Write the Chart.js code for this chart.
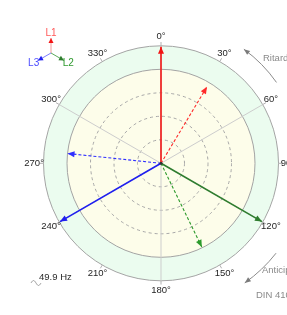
<!DOCTYPE html>
<html>
<head>
<meta charset="utf-8">
<script src="https://cdn.jsdelivr.net/npm/chart.js@4.4.1/dist/chart.umd.min.js"></script>
<style>
  html, body { margin: 0; padding: 0; background: #fff; overflow: hidden; }
  canvas { display: block; }
</style>
</head>
<body>
<canvas id="fasori" width="287" height="315"></canvas>
<script>
// Dati del diagramma fasoriale (angoli in gradi, senso orario da 0° in alto)
const fasi = ['L1', 'L2', 'L3'];
const angoliTensione = [0, 120, 240];
const moduliTensione = [124, 124, 124];
const angoliCorrente = [31, 154, 276];
const moduliCorrente = [95, 99, 100];
const etichetteAngoli = ['0°', '30°', '60°', '90°', '120°', '150°', '180°', '210°', '240°', '270°', '300°', '330°'];
const gradiEtichette = [0, 30, 60, 90, 120, 150, 180, 210, 240, 270, 300, 330];
const frequenza = '49.9 Hz';

// Colori
const COL_TENSIONE = ['#f21414', '#2f7d2f', '#1f1fef'];
const COL_CORRENTE = ['#ff2a2a', '#2c9a2c', '#2f2fff'];
const COL_LEGENDA_LINEA = ['#f49a9a', '#5aa85a', '#7a7aff'];
const COL_LEGENDA_TESTO = ['#ff5a5a', '#2f9a2f', '#4b4bff'];

const R_ESTERNO = 125;   // anello verde
const R_INTERNO = 100;   // disco giallo
const R_ETICHETTE = 135;
const FONT = '9.5px "Liberation Sans", Arial, sans-serif';

const rad = g => g * Math.PI / 180;
const punto = (mod, ang) => ({ x: mod * Math.sin(rad(ang)), y: mod * Math.cos(rad(ang)) });

function vettore(i, tensione){
  const mod = tensione ? moduliTensione[i] : moduliCorrente[i];
  const ang = tensione ? angoliTensione[i] : angoliCorrente[i];
  return {
    label: fasi[i] + (tensione ? ' U' : ' I'),
    data: [{ x: 0, y: 0 }, punto(mod, ang)],
    showLine: true,
    borderColor: tensione ? COL_TENSIONE[i] : COL_CORRENTE[i],
    borderWidth: tensione ? 1.6 : 1.1,
    borderDash: tensione ? [] : [3, 2],
    pointRadius: 0,
    fill: false
  };
}

const datasets = [];
for (let i = 0; i < fasi.length; i++) datasets.push(vettore(i, false));
for (let i = 0; i < fasi.length; i++) datasets.push(vettore(i, true));

function freccia(ctx, x0, y0, x1, y1, colore, lung = 7, larg = 3){
  const a = Math.atan2(y1 - y0, x1 - x0);
  ctx.save();
  ctx.fillStyle = colore;
  ctx.beginPath();
  ctx.moveTo(x1, y1);
  ctx.lineTo(x1 - lung * Math.cos(a) + larg * Math.sin(a), y1 - lung * Math.sin(a) - larg * Math.cos(a));
  ctx.lineTo(x1 - lung * Math.cos(a) - larg * Math.sin(a), y1 - lung * Math.sin(a) + larg * Math.cos(a));
  ctx.closePath();
  ctx.fill();
  ctx.restore();
}

// Sfondo: anelli, griglia, etichette, testi
const sfondoPlugin = {
  id: 'sfondoFasori',
  beforeDatasetsDraw(chart){
    const { ctx } = chart;
    const sx = chart.scales.x, sy = chart.scales.y;
    const cx = sx.getPixelForValue(0), cy = sy.getPixelForValue(0);
    const k = sx.getPixelForValue(1) - cx;
    const px = (mod, ang) => [cx + mod * k * Math.sin(rad(ang)), cy - mod * k * Math.cos(rad(ang))];

    ctx.save();
    // anello esterno
    ctx.fillStyle = '#ebfcef';
    ctx.strokeStyle = '#a4a4a4';
    ctx.lineWidth = 1;
    ctx.beginPath(); ctx.arc(cx, cy, R_ESTERNO * k, 0, Math.PI * 2); ctx.fill(); ctx.stroke();
    // disco interno
    ctx.fillStyle = '#fdfdea';
    ctx.beginPath(); ctx.arc(cx, cy, R_INTERNO * k, 0, Math.PI * 2); ctx.fill(); ctx.stroke();

    // cerchi tratteggiati
    ctx.strokeStyle = '#a8a8a8';
    ctx.setLineDash([3, 3]);
    [25, 50, 75].forEach(r => {
      ctx.beginPath(); ctx.arc(cx, cy, r * k, 0, Math.PI * 2); ctx.stroke();
    });
    ctx.setLineDash([]);

    // raggi ogni 60°
    ctx.strokeStyle = '#cdcdcd';
    for (let g = 0; g < 360; g += 60){
      const [x, y] = px(R_ESTERNO, g);
      ctx.beginPath(); ctx.moveTo(cx, cy); ctx.lineTo(x, y); ctx.stroke();
    }
    // tacche ogni 30°
    ctx.strokeStyle = '#b0b0b0';
    gradiEtichette.forEach(g => {
      const [x0, y0] = px(R_ESTERNO, g);
      const [x1, y1] = px(R_ESTERNO + 4, g);
      ctx.beginPath(); ctx.moveTo(x0, y0); ctx.lineTo(x1, y1); ctx.stroke();
    });

    // etichette angoli
    ctx.font = FONT;
    ctx.fillStyle = '#1e1e1e';
    ctx.textAlign = 'center';
    ctx.textBaseline = 'middle';
    gradiEtichette.forEach((g, i) => {
      const [x, y] = px(R_ETICHETTE, g);
      ctx.fillText(etichetteAngoli[i], x, y);
    });

    // frecce Ritardo / Anticipo
    ctx.strokeStyle = '#8c8c8c';
    ctx.lineWidth = 1;
    const arco = (r, a0, a1) => {
      ctx.beginPath();
      ctx.arc(cx, cy, r, rad(a0 - 90), rad(a1 - 90), a1 < a0);
      ctx.stroke();
      const [xa, ya] = [cx + r * Math.sin(rad(a1)), cy - r * Math.cos(rad(a1))];
      const d = a1 < a0 ? 1 : -1;
      const [xb, yb] = [cx + r * Math.sin(rad(a1 + d * 3)), cy - r * Math.cos(rad(a1 + d * 3))];
      freccia(ctx, xb, yb, xa, ya, '#7a7a7a', 6, 2.5);
    };
    arco(141, 55, 36);
    arco(146, 128, 145);

    ctx.fillStyle = '#8a8a8a';
    ctx.textAlign = 'left';
    ctx.fillText('Ritardo', 263, 58);
    ctx.fillText('Anticipo', 262, 270);
    ctx.fillText('DIN 410', 256, 295);

    // frequenza
    ctx.fillStyle = '#2a2a2a';
    ctx.fillText(frequenza, 39, 277);
    ctx.strokeStyle = '#9a9a9a';
    ctx.beginPath();
    for (let t = 0; t <= 10; t += 0.5){
      const x = 31 + t, y = 283 - 2.5 * Math.sin(t / 10 * Math.PI * 2);
      t === 0 ? ctx.moveTo(x, y) : ctx.lineTo(x, y);
    }
    ctx.stroke();

    // legenda fasi
    const lx = 51, ly = 53;
    fasi.forEach((f, i) => {
      const g = angoliTensione[i];
      const x1 = lx + 15 * Math.sin(rad(g)), y1 = ly - 15 * Math.cos(rad(g));
      ctx.strokeStyle = COL_LEGENDA_LINEA[i];
      ctx.beginPath(); ctx.moveTo(lx, ly); ctx.lineTo(x1, y1); ctx.stroke();
      freccia(ctx, lx, ly, x1, y1, COL_TENSIONE[i], 5, 2.5);
      ctx.fillStyle = COL_LEGENDA_TESTO[i];
      ctx.textAlign = 'center';
      ctx.font = '10px "Liberation Sans", Arial, sans-serif';
      ctx.fillText(f, lx + 20 * Math.sin(rad(g)), ly - 20 * Math.cos(rad(g)));
    });
    ctx.restore();
  },
  afterDatasetsDraw(chart){
    const { ctx } = chart;
    chart.data.datasets.forEach((ds, i) => {
      const meta = chart.getDatasetMeta(i);
      const p0 = meta.data[0], p1 = meta.data[1];
      freccia(ctx, p0.x, p0.y, p1.x, p1.y, ds.borderColor, 7, 3);
    });
    const sx = chart.scales.x, sy = chart.scales.y;
    ctx.save();
    ctx.fillStyle = '#333';
    ctx.beginPath();
    ctx.arc(sx.getPixelForValue(0), sy.getPixelForValue(0), 1.5, 0, Math.PI * 2);
    ctx.fill();
    ctx.restore();
  }
};

// scala: 0.94 px per unità, centro a (161, 163)
const PX_UNITA = 0.94;
const CENTRO = { x: 161, y: 163.3 };
const W = 287, H = 315;

new Chart(document.getElementById('fasori'), {
  type: 'scatter',
  data: { datasets },
  options: {
    responsive: false,
    animation: false,
    devicePixelRatio: 1,
    layout: { padding: 0 },
    scales: {
      x: { type: 'linear', display: false, min: -CENTRO.x / PX_UNITA, max: (W - CENTRO.x) / PX_UNITA },
      y: { type: 'linear', display: false, min: -(H - CENTRO.y) / PX_UNITA, max: CENTRO.y / PX_UNITA }
    },
    plugins: {
      legend: { display: false },
      tooltip: { enabled: false }
    }
  },
  plugins: [sfondoPlugin]
});
</script>
</body>
</html>
